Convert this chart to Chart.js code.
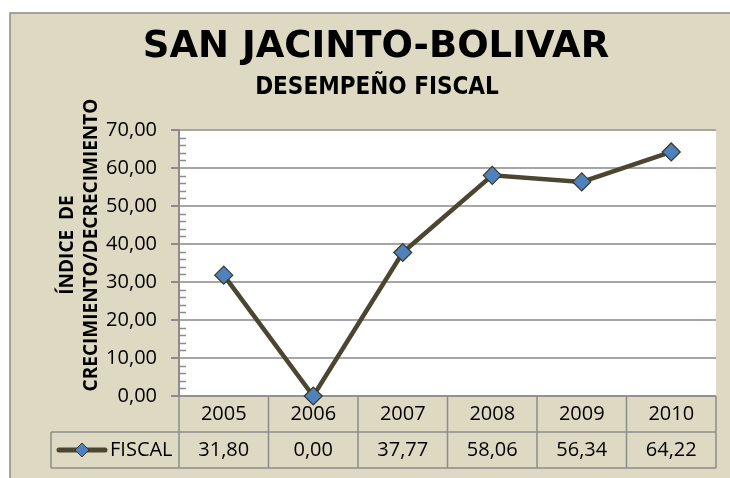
<!DOCTYPE html>
<html>
<head>
<meta charset="utf-8">
<script src="https://cdn.jsdelivr.net/npm/chart.js@4/dist/chart.umd.min.js"></script>
<style>
  html, body { margin: 0; padding: 0; background: #ffffff; }
  #wrap { width: 730px; height: 478px; }
</style>
</head>
<body>
<div id="wrap"><canvas id="c" width="730" height="478"></canvas></div>
<script>
// ---- data ----
const categories = ['2005', '2006', '2007', '2008', '2009', '2010'];
const fiscalValues = [31.80, 0.00, 37.77, 58.06, 56.34, 64.22];
const seriesName = 'FISCAL';
const chartTitle = 'SAN JACINTO-BOLIVAR';
const chartSubtitle = 'DESEMPEÑO FISCAL';
const yTitleLines = ['ÍNDICE  DE', 'CRECIMIENTO/DECRECIMIENTO'];
const yMin = 0, yMax = 70, yStep = 10, yMinorStep = 2;

// ---- styles ----
const BG = '#DDD9C3';
const LINE = '#4A4630';
const MARK = '#4F81BD';
const MARK_BORDER = '#3A3826';
const GRID = '#A6A6A6';
const AXIS = '#8C8C8C';
const fmt = v => v.toFixed(2).replace('.', ',');

const decor = {
  id: 'decor',
  beforeDraw(chart) {
    const { ctx, chartArea: a } = chart;
    ctx.save();
    ctx.fillStyle = '#ffffff';
    ctx.fillRect(0, 0, chart.width, chart.height);
    ctx.fillStyle = BG;
    ctx.fillRect(10, 13, chart.width - 10, chart.height - 13);
    ctx.strokeStyle = '#8A8A8A';
    ctx.lineWidth = 1.5;
    ctx.beginPath();
    ctx.moveTo(10, chart.height);
    ctx.lineTo(10, 13);
    ctx.lineTo(chart.width, 13);
    ctx.stroke();
    ctx.fillStyle = '#ffffff';
    ctx.fillRect(a.left, a.top, a.right - a.left, a.bottom - a.top);
    ctx.restore();
  },
  beforeDatasetsDraw(chart) {
    const { ctx, chartArea: a } = chart;
    const xs = chart.scales.x, ys = chart.scales.y;
    ctx.save();
    // minor ticks
    ctx.strokeStyle = AXIS;
    ctx.lineWidth = 1.5;
    for (let v = yMin; v <= yMax; v += yMinorStep) {
      if (v % yStep === 0) continue;
      const y = Math.round(ys.getPixelForValue(v)) + 0.5;
      ctx.beginPath();
      ctx.moveTo(a.left, y);
      ctx.lineTo(a.left + 7, y);
      ctx.stroke();
    }
    // data table
    const rowH = 36;
    const r0 = a.bottom, r1 = a.bottom + rowH, r2 = a.bottom + 2 * rowH;
    const legLeft = 51;
    const n = categories.length;
    const colW = (xs.getPixelForValue(1) - xs.getPixelForValue(0));
    ctx.strokeStyle = AXIS;
    ctx.lineWidth = 1.5;
    ctx.beginPath();
    ctx.moveTo(a.left, r0); ctx.lineTo(a.right, r0);
    ctx.moveTo(legLeft, r1); ctx.lineTo(a.right, r1);
    ctx.moveTo(legLeft, r2); ctx.lineTo(a.right, r2);
    ctx.moveTo(legLeft, r1); ctx.lineTo(legLeft, r2);
    ctx.moveTo(a.left, r0); ctx.lineTo(a.left, r2);
    for (let i = 0; i < n; i++) {
      const xr = xs.getPixelForValue(i) + colW / 2;
      ctx.moveTo(xr, r0); ctx.lineTo(xr, r2);
    }
    ctx.stroke();
    ctx.fillStyle = '#000000';
    ctx.font = '20px "Open Sans"';
    ctx.textAlign = 'center';
    ctx.textBaseline = 'middle';
    for (let i = 0; i < n; i++) {
      const x = xs.getPixelForValue(i);
      ctx.fillText(categories[i], x, (r0 + r1) / 2);
      ctx.fillText(fmt(fiscalValues[i]), x, (r1 + r2) / 2);
    }
    // legend key
    const ly = (r1 + r2) / 2;
    ctx.strokeStyle = LINE;
    ctx.lineWidth = 5;
    ctx.lineCap = 'round';
    ctx.beginPath();
    ctx.moveTo(59, ly); ctx.lineTo(105, ly);
    ctx.stroke();
    ctx.lineCap = 'butt';
    const dr = 7;
    ctx.beginPath();
    ctx.moveTo(82 - dr, ly); ctx.lineTo(82, ly - dr); ctx.lineTo(82 + dr, ly); ctx.lineTo(82, ly + dr);
    ctx.closePath();
    ctx.fillStyle = MARK; ctx.fill();
    ctx.strokeStyle = MARK_BORDER; ctx.lineWidth = 1; ctx.stroke();
    ctx.fillStyle = '#000000';
    ctx.textAlign = 'left';
    ctx.fillText(seriesName, 110, ly);
    ctx.restore();
  },
  afterDraw(chart) {
    const { ctx } = chart;
    ctx.save();
    ctx.fillStyle = '#000000';
    ctx.textAlign = 'center';
    ctx.textBaseline = 'alphabetic';
    ctx.font = 'bold 37px "DejaVu Sans"';
    ctx.fillText(chartTitle, 376, 57);
    ctx.font = 'bold 24px "DejaVu Sans Condensed", "DejaVu Sans"';
    ctx.fillText(chartSubtitle, 377, 94);
    // y axis title
    ctx.translate(0, 245);
    ctx.rotate(-Math.PI / 2);
    ctx.font = 'bold 19px "Open Sans"';
    ctx.fillText(yTitleLines[0], 0, 73);
    ctx.fillText(yTitleLines[1], 0, 97);
    ctx.restore();
  }
};

new Chart(document.getElementById('c'), {
  type: 'line',
  data: {
    labels: categories,
    datasets: [{
      label: seriesName,
      data: fiscalValues,
      borderColor: LINE,
      borderWidth: 4.5,
      tension: 0,
      pointStyle: 'rectRot',
      pointRadius: 9,
      pointHoverRadius: 9,
      pointBackgroundColor: MARK,
      pointBorderColor: MARK_BORDER,
      pointBorderWidth: 1.2,
      clip: false
    }]
  },
  options: {
    responsive: false,
    devicePixelRatio: 1,
    animation: false,
    layout: { padding: { left: 0, top: 130, right: 14, bottom: 82 } },
    plugins: { legend: { display: false }, tooltip: { enabled: false }, title: { display: false } },
    events: [],
    scales: {
      x: { display: false, offset: true },
      y: {
        min: yMin, max: yMax,
        afterFit(scale) { scale.width = 179; },
        ticks: {
          stepSize: yStep,
          padding: 14,
          color: '#000000',
          font: { family: 'Open Sans', size: 20 },
          callback: v => fmt(v)
        },
        grid: { color: GRID, lineWidth: 2, tickLength: 8, tickColor: AXIS, drawTicks: true },
        border: { display: true, color: AXIS, width: 2 }
      }
    }
  },
  plugins: [decor]
});
</script>
</body>
</html>
